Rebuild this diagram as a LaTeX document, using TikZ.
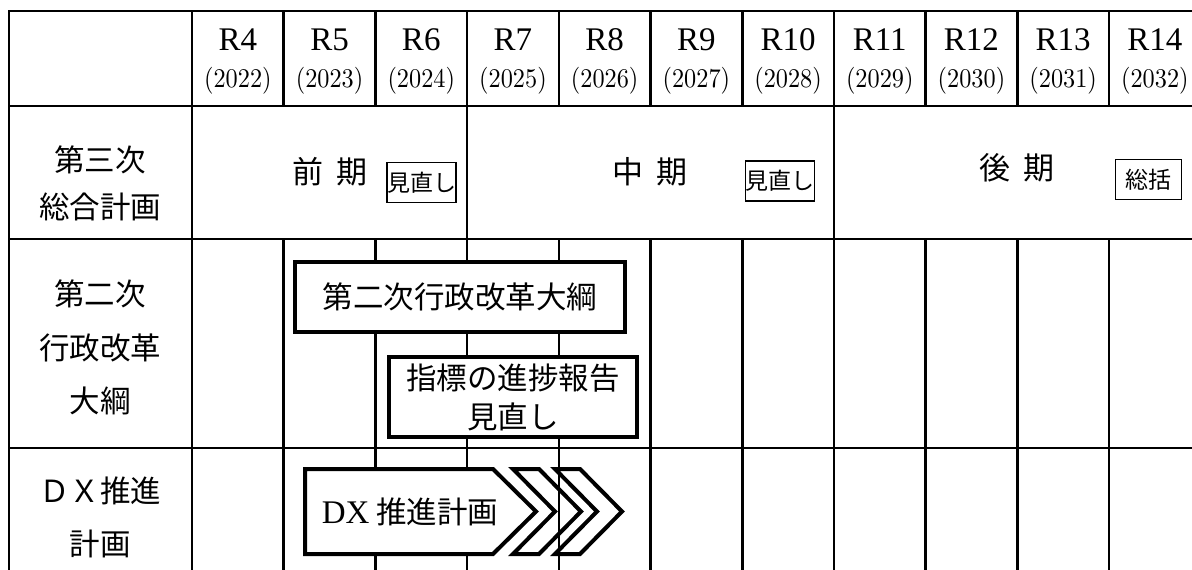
\documentclass[tikz,border=0pt]{standalone}
\usepackage{fontspec}
\newfontfamily\cjk{Noto Sans CJK JP}
\newfontfamily\tms{Liberation Serif}
\newfontfamily\lmten{lmroman10-regular}[Extension=.otf]
\begin{document}
\begin{tikzpicture}[x=1pt,y=-1pt,
  gridline/.style={line width=2.6pt, line cap=rect},
  bigbox/.style={draw, line width=4pt, fill=white, inner sep=0pt, line join=miter},
  smallbox/.style={draw, line width=1.3pt, fill=white, inner sep=0pt, minimum width=68pt, minimum height=40pt, font=\cjk\fontsize{23}{23}\selectfont},
  hdr/.style={font=\tms\fontsize{33}{33}\selectfont, inner sep=0pt},
  yrlbl/.style={font=\lmten\fontsize{27}{27}\selectfont, inner sep=0pt},
  lbl/.style={font=\cjk\fontsize{30.5}{30.5}\selectfont, inner sep=0pt},
  chev/.style={draw, line width=4pt, line join=miter},
]
\useasboundingbox (0,0) rectangle (1192,570);
\clip (0,0) rectangle (1192,570);
% grid
\foreach \yy in {11,106,239,448} \draw[gridline] (9,\yy) -- (1210,\yy);
\draw[gridline] (9,11) -- (9,580);
\foreach \i in {0,3,7} { \draw[gridline] ({192+91.7*\i},11) -- ({192+91.7*\i},580); }
\foreach \i in {1,2,4,5,6,8,9,10} {
  \draw[gridline] ({192+91.7*\i},11) -- ({192+91.7*\i},106);
  \draw[gridline] ({192+91.7*\i},239) -- ({192+91.7*\i},580);
}
% header
\foreach \i in {0,...,10} {
  \pgfmathtruncatemacro\rnum{\i+4}
  \pgfmathtruncatemacro\yrnum{\i+2022}
  \node[hdr] (r\i) at ({192+91.7*(\i+0.5)},40) {R\rnum};
  \node[yrlbl] (y\i) at ({192+91.7*(\i+0.5)},81) {\scalebox{0.9}[1]{(\yrnum)}};
}
% row labels
\node[lbl] (l1a) at (100,160) {第三次};
\node[lbl] (l1b) at (100,207) {総合計画};
\node[lbl] (l2a) at (100,294) {第二次};
\node[lbl] (l2b) at (100,347.5) {行政改革};
\node[lbl] (l2c) at (100,401) {大綱};
\node[lbl] (l3a) at (100,491) {ＤＸ推進};
\node[lbl] (l3b) at (100,544) {計画};
% row 2
\node[lbl, font=\cjk\fontsize{31}{31}\selectfont] (zenki) at (330,172) {前\hspace{14pt}期};
\node[lbl, font=\cjk\fontsize{31}{31}\selectfont] (chuki) at (650,172) {中\hspace{14pt}期};
\node[lbl, font=\cjk\fontsize{31}{31}\selectfont] (koki) at (1017,168) {後\hspace{14pt}期};
\node[smallbox] (mn1) at (421.5,182.5) {見直し};
\node[smallbox] (mn2) at (780,181) {見直し};
\node[smallbox, minimum width=66pt] (sk) at (1148.5,179.5) {総括};
% row 3
\node[bigbox, lbl, minimum width=330pt, minimum height=70pt] (taiko) at (460,297) {第二次行政改革大綱};
\node[bigbox, lbl, minimum width=248pt, minimum height=80pt, align=center,
  font=\cjk\fontsize{30.5}{39}\selectfont] (shihyo) at (513,397) {指標の進捗報告\\見直し};
% row 4
\draw[chev, fill=white] (305,469) -- (493,469) -- (536,511.5) -- (493,554) -- (305,554) -- cycle;
\draw[chev] (513,469) -- (539,469) -- (581,511.5) -- (539,554) -- (513,554) -- (555,511.5) -- cycle;
\draw[chev] (555,469) -- (580,469) -- (622,511.5) -- (580,554) -- (555,554) -- (597,511.5) -- cycle;
\node[lbl] (dx) at (410,512) {{\tms\fontsize{33}{33}\selectfont DX} 推進計画};
\end{tikzpicture}
\end{document}
